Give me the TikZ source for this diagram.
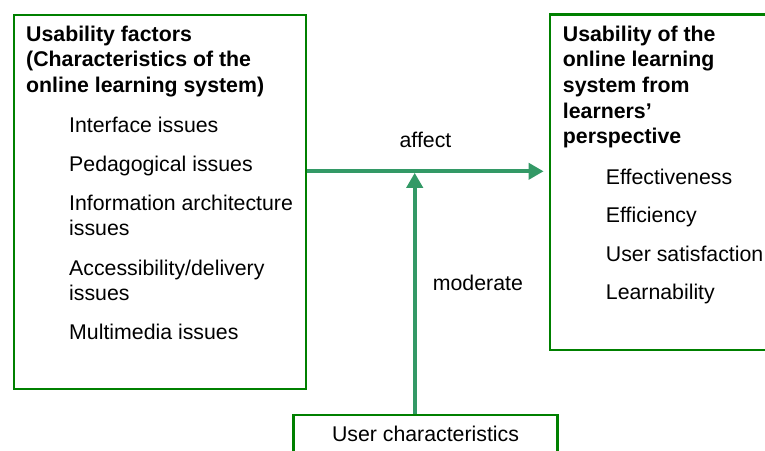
\documentclass[tikz,border=0pt]{standalone}
\usepackage{fontspec}
\setmainfont{Liberation Sans}
\usetikzlibrary{arrows.meta}
\definecolor{boxgreen}{RGB}{0,128,0}
\definecolor{arrowgreen}{RGB}{51,153,102}
\begin{document}
\begin{tikzpicture}[x=1pt,y=-1pt,
  box/.style={draw=boxgreen, line width=2.75pt, rectangle, inner sep=0pt},
  txt/.style={anchor=base west, inner sep=0pt, font=\fontsize{21.3}{25}\selectfont, align=left},
  ttl/.style={anchor=base west, inner sep=0pt, font=\fontsize{21.3}{25.7}\selectfont\bfseries, align=left},
  conn/.style={draw=arrowgreen, line width=4pt, -{Triangle[length=15pt,width=16pt]}},
  lbl/.style={inner sep=0pt, font=\fontsize{21.3}{25}\selectfont}]
\clip (0,0) rectangle (765,450);
% boxes
\node[box, minimum width=292pt, minimum height=374pt] (L) at (160,202) {};
\node[box, minimum width=230pt, minimum height=335.5pt] (R) at (665,182.25) {};
\node[box, minimum width=264pt, minimum height=55pt] (U) at (425.5,442.5) {};
% left box text (base anchor = baseline of last line)
\node[ttl] (Lt) at (26,92.4) {Usability factors\\(Characteristics of the\\online learning system)};
\node[txt] (L1) at (69,132.5) {Interface issues};
\node[txt] (L2) at (69,171) {Pedagogical issues};
\node[txt] (L3) at (69,235) {Information architecture\\issues};
\node[txt] (L4) at (69,300) {Accessibility/delivery\\issues};
\node[txt] (L5) at (69,339.5) {Multimedia issues};
% right box text
\node[ttl] (Rt) at (562.7,143.8) {Usability of the\\online learning\\system from\\learners’\\perspective};
\node[txt] (R1) at (605.7,184) {Effectiveness};
\node[txt] (R2) at (605.7,222.5) {Efficiency};
\node[txt] (R3) at (605.7,261) {User satisfaction};
\node[txt] (R4) at (605.7,299.5) {Learnability};
% bottom box text
\node[lbl, anchor=base] (Ut) at (425.5,441.7) {User characteristics};
% connectors
\coordinate (j) at (414.7,171.3);
\draw[conn, shorten >=5pt] (L.east |- j) -- (R.west |- j);
\draw[conn, shorten >=1.5pt] (U.north -| j) -- (j);
% labels
\node[lbl, anchor=base] (aff) at (425.5,147.3) {affect};
\node[lbl, anchor=base west] (mod) at (432.7,290.7) {moderate};
\end{tikzpicture}
\end{document}
